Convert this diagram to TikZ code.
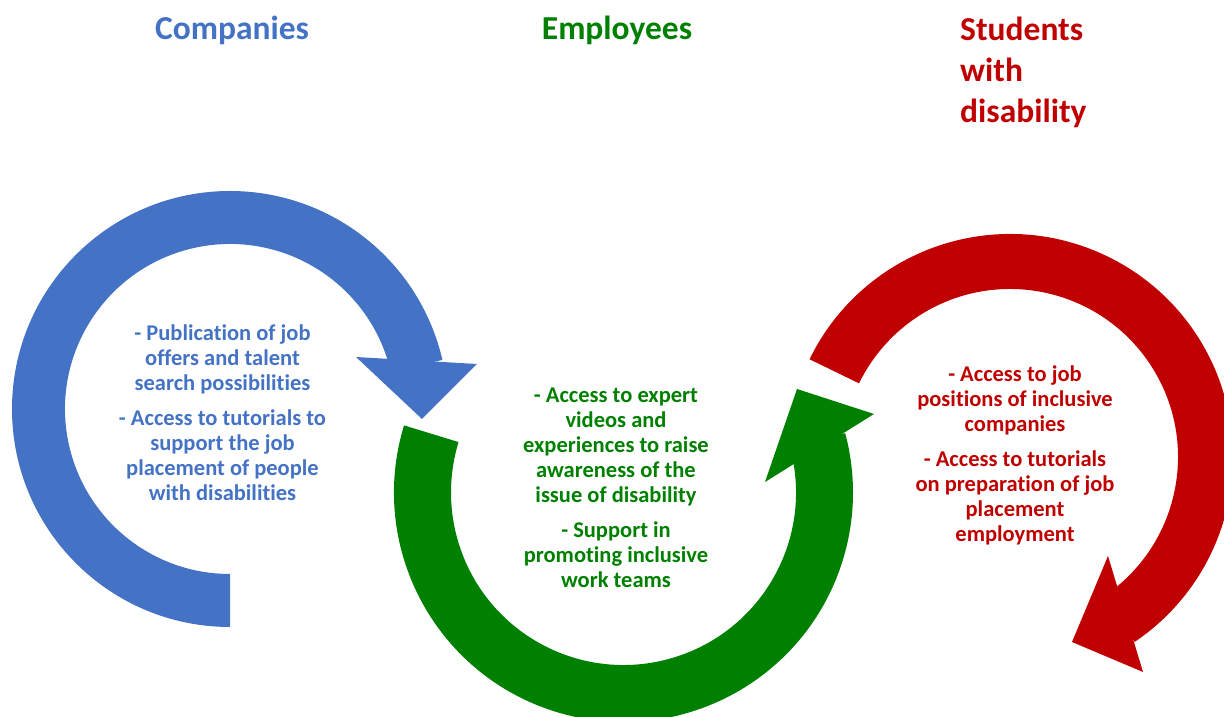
\documentclass[tikz,border=0pt]{standalone}
\usepackage{fontspec}
\setmainfont{Carlito}[Ligatures=NoCommon]
\usetikzlibrary{calc}
\definecolor{cblue}{HTML}{4472C4}
\definecolor{cgreen}{HTML}{008000}
\definecolor{cred}{HTML}{C00000}
\begin{document}
\begin{tikzpicture}[x=1pt,y=1pt,
  title/.style={font=\bfseries\fontsize{33.5}{41}\selectfont, inner sep=0},
  body/.style={font=\bfseries\fontsize{22.5}{25}\selectfont, align=center, inner sep=0}]
\useasboundingbox (0,0) rectangle (1224,717);
\clip (0,0) rectangle (1224,717);
% ---------- blue arrow (Companies)
\coordinate (bc) at (230,308);
\coordinate (bh1) at (356,360);
\coordinate (bh2) at (477,353);
\coordinate (bh3) at (422,298);
\fill[cblue] ($(bc)+(270:218)$) arc[start angle=270,end angle=13,radius=218]
  -- ($(bc)+(13:165)$) arc[start angle=13,end angle=270,radius=165] -- cycle;
\fill[cblue] (bh1) -- (bh2) -- (bh3) -- cycle;
% ---------- green arrow (Employees)
\coordinate (gc) at (623.5,224.5);
\coordinate (gh1) at (765,235);
\coordinate (gh2) at (874,303);
\coordinate (gh3) at (797,328);
\fill[cgreen] ($(gc)+(163:229.5)$) arc[start angle=163,end angle=375,radius=229.5]
  -- ($(gc)+(375:172.5)$) arc[start angle=375,end angle=163,radius=172.5] -- cycle;
\fill[cgreen] (gh1) -- (gh2) -- (gh3) -- cycle;
% ---------- red arrow (Students)
\coordinate (rc) at (1010,260);
\coordinate (rh1) at (1108,161);
\coordinate (rh2) at (1143,45);
\coordinate (rh3) at (1072,75);
\fill[cred] ($(rc)+(154:223)$) arc[start angle=154,end angle=-56,radius=223]
  -- ($(rc)+(-56:168)$) arc[start angle=-56,end angle=154,radius=168] -- cycle;
\fill[cred] (rh1) -- (rh2) -- (rh3) -- cycle;
% ---------- titles
\node[title, text=cblue, anchor=base] (comp) at (232,677) {Companies};
\node[title, text=cgreen, anchor=base] (emp) at (617,677) {Employees};
\node[title, text=cred, anchor=north west, align=left] (stud) at (960,700) {Students\\with\\disability};
% ---------- texts
\node[body, text=cblue] (ctext) at (222.5,304) {- Publication of job\\offers and talent\\search possibilities\\[10pt]- Access to tutorials to\\support the job\\placement of people\\with disabilities};
\node[body, text=cgreen] (etext) at (616,229) {- Access to expert\\videos and\\experiences to raise\\awareness of the\\issue of disability\\[10pt]- Support in\\promoting inclusive\\work teams};
\node[body, text=cred] (stext) at (1015,261.5) {- Access to job\\positions of inclusive\\companies\\[10pt]- Access to tutorials\\on preparation of job\\placement\\employment};
\end{tikzpicture}
\end{document}
